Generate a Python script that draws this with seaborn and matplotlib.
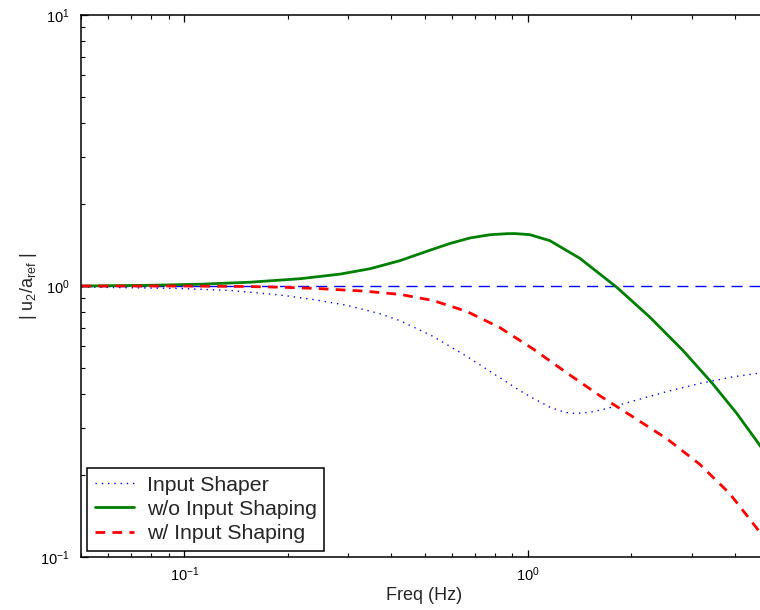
import matplotlib
matplotlib.use("Agg")
import matplotlib.pyplot as plt
import seaborn as sns

# ---- data (Hz, magnitude) ----
freq_wo = [0.0502, 0.0796, 0.1113, 0.1555, 0.2174, 0.2841, 0.3474, 0.4246, 0.5189,
           0.5933, 0.6782, 0.7752, 0.8690, 0.9166, 1.0134, 1.1588, 1.4164, 1.8143,
           2.2624, 2.8224, 3.4506, 4.0520, 4.6634, 5.0]
mag_wo = [1.000, 1.006, 1.0154, 1.0328, 1.0640, 1.1063, 1.1584, 1.2408, 1.3557,
          1.4355, 1.5040, 1.5458, 1.5597, 1.5611, 1.5466, 1.4697, 1.2653, 0.9890,
          0.7684, 0.5797, 0.4359, 0.3391, 0.2652, 0.2339]

freq_shaper = [0.0502, 0.0973, 0.1360, 0.1901, 0.2371, 0.2977, 0.3713, 0.4246, 0.5294,
               0.6648, 0.8291, 0.9478, 1.0340, 1.1588, 1.2814, 1.3694, 1.5143, 1.6965,
               2.0197, 2.5357, 3.1623, 3.9446, 4.6634, 5.0]
mag_shaper = [0.9915, 0.9790, 0.9625, 0.9264, 0.8917, 0.8482, 0.7900, 0.7447, 0.6518,
              0.5494, 0.4584, 0.4112, 0.3855, 0.3573, 0.3416, 0.3387, 0.3419, 0.3528,
              0.3761, 0.4077, 0.4367, 0.4620, 0.4760, 0.4805]

freq_w = [0.0502, 0.0973, 0.1524, 0.1901, 0.2371, 0.3314, 0.4246, 0.5294, 0.6648,
          0.8291, 1.0340, 1.2987, 1.6192, 2.0197, 2.5357, 3.1623, 3.8663, 4.6634, 5.0]
mag_w = [1.000, 1.000, 0.9958, 0.9899, 0.9806, 0.9580, 0.9312, 0.8841, 0.8050,
         0.7019, 0.5865, 0.4779, 0.3937, 0.3292, 0.2734, 0.2200, 0.1715, 0.1266, 0.1115]

ref_level = 1.0
x_limits = [0.05, 5.0]
y_limits = [0.1, 10.0]
labels = ["Input Shaper", "w/o Input Shaping", "w/ Input Shaping"]

# ---- style ----
sns.set_style("ticks")
plt.rcParams['font.family'] = ['Liberation Sans', 'DejaVu Sans']
plt.rcParams['mathtext.fontset'] = 'custom'
plt.rcParams['mathtext.rm'] = 'Liberation Sans'
plt.rcParams['mathtext.it'] = 'Liberation Sans:italic'
plt.rcParams['mathtext.default'] = 'regular'

fig = plt.figure(figsize=(7.6, 6.1), dpi=100)
ax = fig.add_axes([81 / 760, 53 / 610, 687 / 760, 542 / 610])

ax.axhline(ref_level, color='#0000FF', linestyle=(0, (8, 5)), linewidth=1.0, zorder=1)

sns.lineplot(x=freq_shaper, y=mag_shaper, ax=ax, color='#0000FF',
             linestyle=(0, (1, 3.5)), linewidth=1.0, label=labels[0])
sns.lineplot(x=freq_wo, y=mag_wo, ax=ax, color='#008000',
             linestyle='-', linewidth=2.0, label=labels[1])
sns.lineplot(x=freq_w, y=mag_w, ax=ax, color='#FF0000',
             linestyle=(0, (3.5, 2.6)), linewidth=2.0, label=labels[2])

ax.set_xscale('log')
ax.set_yscale('log')
ax.set_xlim(*x_limits)
ax.set_ylim(*y_limits)

for s in ax.spines.values():
    s.set_linewidth(1.1)
    s.set_color('black')

ax.tick_params(which='both', direction='in', top=True, right=True, colors='black')
ax.tick_params(which='major', length=5, width=0.9, labelsize=10.5, pad=6)
ax.tick_params(which='minor', length=2.8, width=0.8)
ax.tick_params(axis='y', which='major', pad=8)

ax.set_xlabel('Freq (Hz)', fontsize=13, labelpad=2)
ax.set_ylabel(r'| u$_2$/a$_{ref}$ |', fontsize=13, labelpad=1)

leg = ax.legend(loc='lower left', fontsize=15.3, frameon=True, fancybox=False,
                edgecolor='black', framealpha=1, borderaxespad=0.3,
                handlelength=1.85, handletextpad=0.6, labelspacing=0.25,
                borderpad=0.35)
leg.get_frame().set_linewidth(1.1)

fig.savefig('out.png', dpi=100)
